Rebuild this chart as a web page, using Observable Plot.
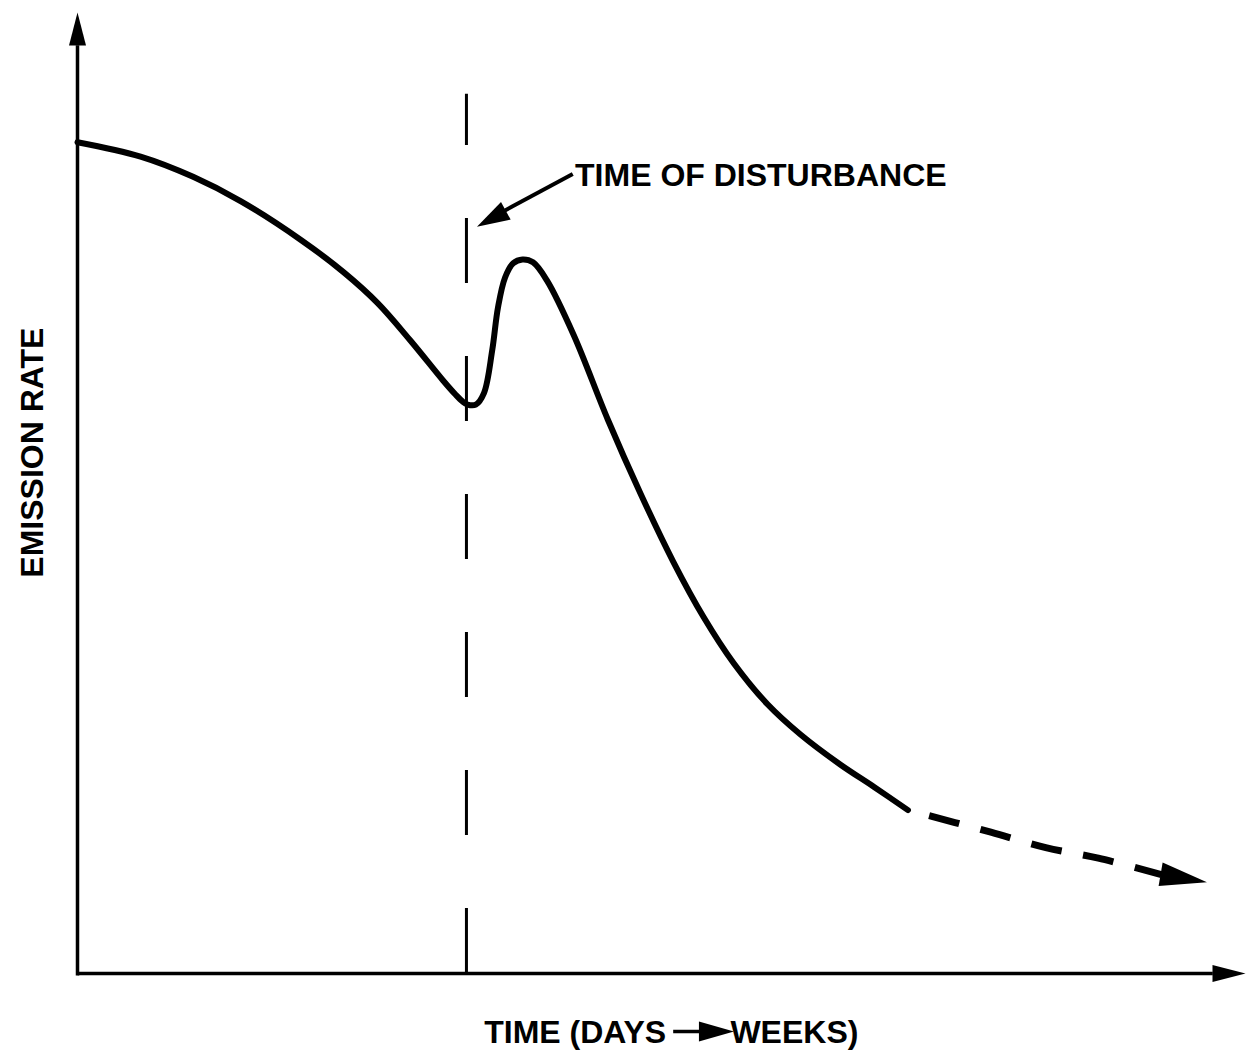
<!DOCTYPE html>
<html><head><meta charset="utf-8">
<script src="https://cdn.jsdelivr.net/npm/d3@7"></script>
<script src="https://cdn.jsdelivr.net/npm/@observablehq/plot@0.6"></script>
<style>
html,body{margin:0;padding:0;background:#fff;}
#chart svg{display:block;}
</style></head><body><div id="chart"></div>
<script>
// ---- data (schematic units: time 0-100, emission rate 0-100) ----
const curveTime = [0, 5.4, 9.9, 14.0, 19.1, 22.8, 25.7, 28.5, 31.3, 32.36, 32.96, 33.4, 34.1, 34.8, 35.5, 36.0, 36.6, 37.3, 38.1, 39.0, 40.2, 42.5, 45.4, 48.2, 51.0, 53.6, 56.2, 59.1, 61.9, 65.3, 68.2, 71.1];
const curveRate = [86.5, 85.0, 82.9, 80.35, 76.36, 72.96, 69.76, 65.87, 61.71, 60.25, 59.53, 59.2, 59.2, 60.4, 64.8, 69.3, 72.4, 73.9, 74.3, 74.0, 72.1, 66.39, 57.65, 49.95, 42.87, 37.1, 32.26, 27.99, 24.87, 21.75, 19.41, 17.0];
const tailTime = [71.1, 78.2, 82.9, 87.4, 92.8];
const tailRate = [17.0, 14.7, 13.1, 12.0, 10.3];
const tailTip = [96.7, 9.5];
const disturbanceTime = 33.3;
const disturbanceTop = 91.5;
const axisEnds = [100, 100];          // x tip, y tip
const axisHeadBase = [97.2, 96.6];    // where the shafts end
const annotationText = "TIME OF DISTURBANCE";
const annotationAt = [42.6, 83.0];
const annotationArrow = [42.4, 83.2, 36.6, 79.4, 34.2, 77.7]; // start, head base, tip
const xLabelLeft = "TIME (DAYS";
const xLabelRight = "WEEKS)";
const xLabelPos = [50.4, 55.9, -6.14];  // left end, right start, y
const xLabelArrow = [51.0, 53.2, 56.2]; // shaft start, head base, tip
const yLabel = "EMISSION RATE";
const yLabelPos = [-3.85, 54.2];

// ---- helpers ----
const font = '"Liberation Sans", Arial, Helvetica, sans-serif';
function head(len, wid) {
  return {draw(ctx) { ctx.moveTo(0, 0); ctx.lineTo(wid / 2, len); ctx.lineTo(-wid / 2, len); ctx.closePath(); }};
}
const curve = curveTime.map((t, i) => ({t, r: curveRate[i]}));
const tail = tailTime.map((t, i) => ({t, r: tailRate[i]}));

const chart = Plot.plot({
  width: 1248, height: 1055,
  marginLeft: 77, marginRight: 3, marginTop: 12, marginBottom: 82,
  x: {domain: [0, 100], axis: null},
  y: {domain: [0, 100], axis: null},
  style: {fontFamily: font, background: "white", color: "black"},
  marks: [
    // axes
    Plot.link([{x1: 0, y1: 0, x2: axisHeadBase[0], y2: 0}, {x1: 0, y1: -0.2, x2: 0, y2: axisHeadBase[1]}],
      {x1: "x1", y1: "y1", x2: "x2", y2: "y2", stroke: "black", strokeWidth: 3.5}),
    Plot.dot([{x: axisEnds[0], y: 0}], {x: "x", y: "y", symbol: head(33, 17), rotate: 90, fill: "black", stroke: "none"}),
    Plot.dot([{x: 0, y: axisEnds[1]}], {x: "x", y: "y", symbol: head(33, 17), rotate: 0, fill: "black", stroke: "none"}),
    // time of disturbance
    Plot.ruleX([{x: disturbanceTime, y1: 0, y2: disturbanceTop}],
      {x: "x", y1: "y1", y2: "y2", stroke: "black", strokeWidth: 3, strokeDasharray: "65,73", strokeLinecap: "butt"}),
    // emission curve
    Plot.line(curve, {x: "t", y: "r", curve: "catmull-rom", stroke: "black", strokeWidth: 6}),
    Plot.line(tail, {x: "t", y: "r", curve: "catmull-rom", stroke: "black", strokeWidth: 7,
      strokeDasharray: "31,22", strokeDashoffset: 31, strokeLinecap: "butt"}),
    Plot.dot([{x: tailTip[0], y: tailTip[1]}], {x: "x", y: "y", symbol: head(47, 24), rotate: 99.7, fill: "black", stroke: "none"}),
    // annotation
    Plot.link([{x1: annotationArrow[0], y1: annotationArrow[1], x2: annotationArrow[2], y2: annotationArrow[3]}],
      {x1: "x1", y1: "y1", x2: "x2", y2: "y2", stroke: "black", strokeWidth: 4}),
    Plot.dot([{x: annotationArrow[4], y: annotationArrow[5]}], {x: "x", y: "y", symbol: head(33, 20), rotate: -118.9, fill: "black", stroke: "none"}),
    Plot.text([{x: annotationAt[0], y: annotationAt[1], label: annotationText}],
      {x: "x", y: "y", text: "label", textAnchor: "start", fontSize: 32, fontWeight: "bold", fill: "black"}),
    // x label
    Plot.text([{x: xLabelPos[0], y: xLabelPos[2], label: xLabelLeft}],
      {x: "x", y: "y", text: "label", textAnchor: "end", fontSize: 32, fontWeight: "bold", fill: "black"}),
    Plot.text([{x: xLabelPos[1], y: xLabelPos[2], label: xLabelRight}],
      {x: "x", y: "y", text: "label", textAnchor: "start", fontSize: 32, fontWeight: "bold", fill: "black"}),
    Plot.link([{x1: xLabelArrow[0], x2: xLabelArrow[1] + 0.3, y: xLabelPos[2]}],
      {x1: "x1", x2: "x2", y1: "y", y2: "y", stroke: "black", strokeWidth: 3.5, dy: -1}),
    Plot.dot([{x: xLabelArrow[2], y: xLabelPos[2]}], {x: "x", y: "y", symbol: head(35, 20), rotate: 90, fill: "black", stroke: "none", dy: -1}),
    // y label
    Plot.text([{x: yLabelPos[0], y: yLabelPos[1], label: yLabel}],
      {x: "x", y: "y", text: "label", rotate: -90, fontSize: 32, fontWeight: "bold", fill: "black"})
  ]
});
document.getElementById("chart").append(chart);
</script>
</body></html>
